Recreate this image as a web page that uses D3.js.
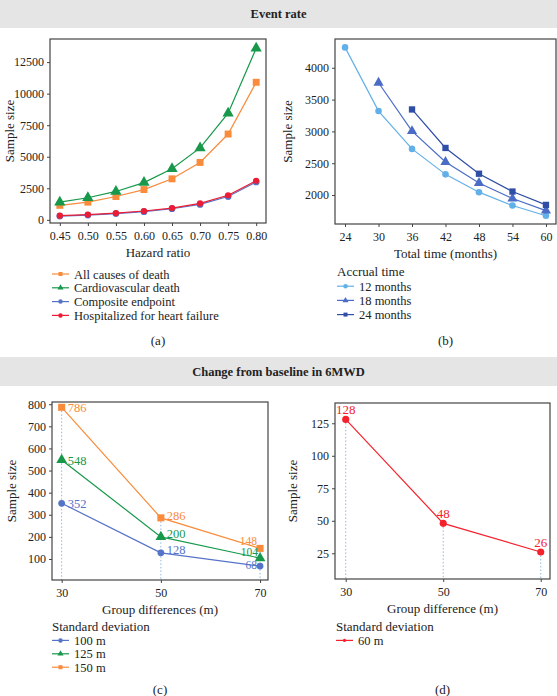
<!DOCTYPE html>
<html>
<head>
<meta charset="utf-8">
<script src="https://cdn.jsdelivr.net/npm/d3@7"></script>
<style>
  body { margin: 0; background: #fff; }
</style>
</head>
<body>
<svg id="chart" width="557" height="696" font-family="Liberation Serif, DejaVu Serif, serif"></svg>
<script>
// ---- data ----
var hazardRatios = [0.45, 0.50, 0.55, 0.60, 0.65, 0.70, 0.75, 0.80];
var allCauses     = [1150, 1400, 1850, 2400, 3250, 4550, 6800, 10900];
var cardioDeath   = [1400, 1750, 2250, 2950, 4050, 5700, 8450, 13600];
var composite     = [300, 380, 500, 650, 880, 1220, 1850, 3000];
var hospitalized  = [330, 420, 540, 700, 930, 1300, 1950, 3100];
var hazardTicks = ["0.45", "0.50", "0.55", "0.60", "0.65", "0.70", "0.75", "0.80"];

var totalTime12 = [24, 30, 36, 42, 48, 54, 60];
var accrual12   = [4320, 3320, 2725, 2325, 2045, 1835, 1675];
var totalTime18 = [30, 36, 42, 48, 54, 60];
var accrual18   = [3765, 3005, 2520, 2190, 1945, 1755];
var totalTime24 = [36, 42, 48, 54, 60];
var accrual24   = [3345, 2740, 2335, 2055, 1845];

var groupDiff = [30, 50, 70];
var sd100 = [352, 128, 68];
var sd125 = [548, 200, 104];
var sd150 = [786, 286, 148];
var sd60  = [128, 48, 26];

var FONT = "'Liberation Serif', 'DejaVu Serif', serif";
var svg = d3.select("#chart");

function txt(sel, size, color) {
  return sel.style("font-family", FONT).style("font-size", size + "px").style("fill", color || "#222");
}

// banners
function banner(y, h, label) {
  svg.append("rect").attr("x", 0).attr("y", y).attr("width", 557).attr("height", h).attr("fill", "#e5e5e5");
  txt(svg.append("text").attr("x", 278.5).attr("y", y + h / 2 + 4)
    .attr("text-anchor", "middle"), 12.5).style("font-weight", "bold")
    .text(label);
}
banner(0, 28, "Event rate");
banner(357, 29, "Change from baseline in 6MWD");

// generic panel: box, axes, titles
function panel(opt) {
  var g = svg.append("g");
  var x = d3.scaleLinear().domain(opt.xDomain).range([opt.left, opt.right]);
  var y = d3.scaleLinear().domain(opt.yDomain).range([opt.bottom, opt.top]);

  g.append("g")
    .attr("transform", "translate(0," + opt.bottom + ")")
    .call(d3.axisBottom(x).tickValues(opt.xTicks).tickFormat(opt.xFormat || d3.format("d")).tickSize(3).tickPadding(5))
    .call(function(a) { a.select(".domain").remove(); })
    .call(function(a) { txt(a.selectAll("text"), 12); a.selectAll("line").attr("stroke", "#444"); });

  g.append("g")
    .attr("transform", "translate(" + opt.left + ",0)")
    .call(d3.axisLeft(y).tickValues(opt.yTicks).tickFormat(d3.format("d")).tickSize(3).tickPadding(3))
    .call(function(a) { a.select(".domain").remove(); })
    .call(function(a) { txt(a.selectAll("text"), 12); a.selectAll("line").attr("stroke", "#444"); });

  txt(g.append("text")
    .attr("transform", "translate(" + opt.yTitleX + "," + ((opt.top + opt.bottom) / 2) + ") rotate(-90)")
    .attr("text-anchor", "middle"), 13)
    .text("Sample size");
  txt(g.append("text")
    .attr("x", (opt.left + opt.right) / 2).attr("y", opt.bottom + 34)
    .attr("text-anchor", "middle"), 13)
    .text(opt.xTitle);

  var plot = g.append("g");
  g.append("rect")
    .attr("x", opt.left).attr("y", opt.top)
    .attr("width", opt.right - opt.left).attr("height", opt.bottom - opt.top)
    .attr("fill", "none").attr("stroke", "#444").attr("stroke-width", 1.2);

  txt(g.append("text")
    .attr("x", (opt.left + opt.right) / 2).attr("y", opt.capY)
    .attr("text-anchor", "middle"), 13)
    .text(opt.caption);

  return { x: x, y: y, plot: plot };
}

function series(p, xs, ys, color, shape, size) {
  var pts = xs.map(function(d, i) { return [d, ys[i]]; });
  var line = d3.line().x(function(d) { return p.x(d[0]); }).y(function(d) { return p.y(d[1]); });
  p.plot.append("path").datum(pts).attr("d", line)
    .attr("fill", "none").attr("stroke", color).attr("stroke-width", 1.2);
  p.plot.selectAll(null).data(pts).enter().append("path")
    .attr("d", d3.symbol().type(shape).size(size))
    .attr("transform", function(d) { return "translate(" + p.x(d[0]) + "," + p.y(d[1]) + ")"; })
    .attr("fill", color);
}

function legend(x, y, step, title, items) {
  var g = svg.append("g");
  var yy = y;
  if (title) {
    txt(g.append("text").attr("x", x).attr("y", yy + 4), 13).text(title);
    yy += step;
  }
  items.forEach(function(it, i) {
    var cy = yy + i * step;
    g.append("line").attr("x1", x).attr("x2", x + 17).attr("y1", cy).attr("y2", cy)
      .attr("stroke", it.color).attr("stroke-width", 1.2);
    g.append("path").attr("d", d3.symbol().type(it.shape).size(it.size || 16))
      .attr("transform", "translate(" + (x + 8.5) + "," + cy + ")").attr("fill", it.color);
    txt(g.append("text").attr("x", x + 22).attr("y", cy + 4.5), 12.5).text(it.label);
  });
}

var orange = "#f98b3a", green = "#17984a", blue = "#5573c7", red = "#ec1c34";

// ---- panel (a) ----
var pa = panel({
  left: 50, right: 266, top: 39, bottom: 223,
  xDomain: [0.4325, 0.8175], yDomain: [-250, 14330],
  xTicks: hazardRatios, xFormat: function(d, i) { return hazardTicks[i]; },
  yTicks: [0, 2500, 5000, 7500, 10000, 12500],
  yTitleX: 14, xTitle: "Hazard ratio", caption: "(a)", capY: 345
});
series(pa, hazardRatios, allCauses, orange, d3.symbolSquare, 48);
series(pa, hazardRatios, cardioDeath, green, d3.symbolTriangle, 55);
series(pa, hazardRatios, composite, blue, d3.symbolCircle, 36);
series(pa, hazardRatios, hospitalized, red, d3.symbolCircle, 30);
legend(52, 274, 13.8, null, [
  { label: "All causes of death", color: orange, shape: d3.symbolSquare },
  { label: "Cardiovascular death", color: green, shape: d3.symbolTriangle },
  { label: "Composite endpoint", color: blue, shape: d3.symbolCircle },
  { label: "Hospitalized for heart failure", color: red, shape: d3.symbolCircle }
]);

// ---- panel (b) ----
var lb1 = "#62b0e8", lb2 = "#4a6cc6", lb3 = "#2f4ea6";
var pb = panel({
  left: 335, right: 556, top: 39, bottom: 224,
  xDomain: [22.2, 61.8], yDomain: [1545, 4452],
  xTicks: [24, 30, 36, 42, 48, 54, 60],
  yTicks: [2000, 2500, 3000, 3500, 4000],
  yTitleX: 292, xTitle: "Total time (months)", caption: "(b)", capY: 345
});
series(pb, totalTime12, accrual12, lb1, d3.symbolCircle, 34);
series(pb, totalTime18, accrual18, lb2, d3.symbolTriangle, 45);
series(pb, totalTime24, accrual24, lb3, d3.symbolSquare, 40);
legend(337, 272, 14.2, "Accrual time", [
  { label: "12 months", color: lb1, shape: d3.symbolCircle },
  { label: "18 months", color: lb2, shape: d3.symbolTriangle },
  { label: "24 months", color: lb3, shape: d3.symbolSquare }
]);

// ---- panel (c) ----
var pc = panel({
  left: 52, right: 268, top: 402, bottom: 580,
  xDomain: [28.05, 71.6], yDomain: [5, 810],
  xTicks: groupDiff,
  yTicks: [100, 200, 300, 400, 500, 600, 700, 800],
  yTitleX: 16, xTitle: "Group differences (m)", caption: "(c)", capY: 694
});
var dropC = groupDiff.map(function(d, i) { return [d, Math.max(sd100[i], sd125[i], sd150[i])]; });
pc.plot.selectAll(null).data(dropC).enter().append("line")
  .attr("x1", function(d) { return pc.x(d[0]); }).attr("x2", function(d) { return pc.x(d[0]); })
  .attr("y1", function(d) { return pc.y(d[1]); }).attr("y2", 580)
  .attr("stroke", "#8fb8de").attr("stroke-width", 1).attr("stroke-dasharray", "1.5,2");
series(pc, groupDiff, sd100, blue, d3.symbolCircle, 36);
series(pc, groupDiff, sd125, green, d3.symbolTriangle, 50);
series(pc, groupDiff, sd150, orange, d3.symbolSquare, 50);
function labelsC(vals, color, offs) {
  txt(pc.plot.selectAll(null).data(groupDiff).enter().append("text")
    .attr("x", function(d, i) { return pc.x(d) + offs[i][0]; })
    .attr("y", function(d, i) { return pc.y(vals[i]) + offs[i][1]; })
    .attr("text-anchor", function(d, i) { return i == 2 ? "end" : "start"; }), 12.5, color)
    .style("font-size", function(d, i) { return i == 2 ? "11.5px" : "12.5px"; })
    .text(function(d, i) { return vals[i]; });
}
labelsC(sd150, orange, [[6, 5], [6, 2], [-3, -3]]);
labelsC(sd125, green, [[6, 5], [6, 1], [-2, -2]]);
labelsC(sd100, blue, [[6, 5], [6, 1], [-3, 3]]);
legend(52, 627, 13.4, "Standard deviation", [
  { label: "100 m", color: blue, shape: d3.symbolCircle },
  { label: "125 m", color: green, shape: d3.symbolTriangle },
  { label: "150 m", color: orange, shape: d3.symbolSquare }
]);

// ---- panel (d) ----
var red2 = "#f5222d";
var pd = panel({
  left: 335, right: 550, top: 403, bottom: 579,
  xDomain: [27.8, 71.9], yDomain: [5.2, 140.6],
  xTicks: groupDiff,
  yTicks: [25, 50, 75, 100, 125],
  yTitleX: 297, xTitle: "Group difference (m)", caption: "(d)", capY: 694
});
pd.plot.selectAll(null).data(groupDiff).enter().append("line")
  .attr("x1", function(d) { return pd.x(d); }).attr("x2", function(d) { return pd.x(d); })
  .attr("y1", function(d, i) { return pd.y(sd60[i]); }).attr("y2", 579)
  .attr("stroke", "#8fb8de").attr("stroke-width", 1).attr("stroke-dasharray", "1.5,2");
series(pd, groupDiff, sd60, red2, d3.symbolCircle, 40);
txt(pd.plot.selectAll(null).data(groupDiff).enter().append("text")
  .attr("x", function(d) { return pd.x(d); })
  .attr("y", function(d, i) { return pd.y(sd60[i]) - 5; })
  .attr("text-anchor", "middle"), 13, red2)
  .text(function(d, i) { return sd60[i]; });
legend(336, 627, 13.4, "Standard deviation", [
  { label: "60 m", color: red2, shape: d3.symbolCircle, size: 8 }
]);
</script>
</body>
</html>
